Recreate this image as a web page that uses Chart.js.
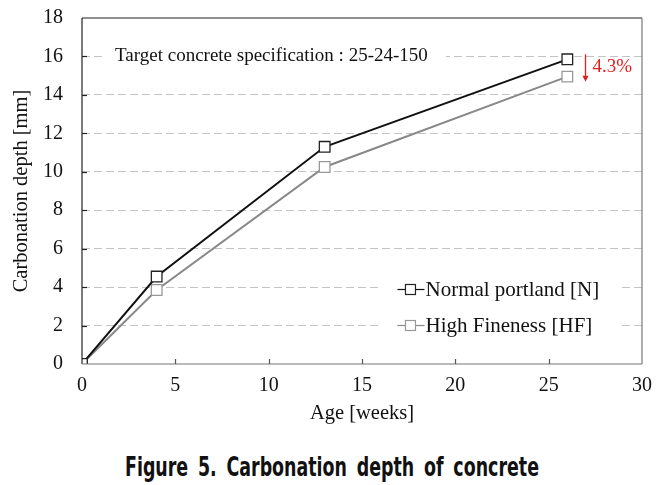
<!DOCTYPE html>
<html>
<head>
<meta charset="utf-8">
<script src="https://cdn.jsdelivr.net/npm/chart.js@4"></script>
<style>
  body { margin: 0; background: #fff; width: 672px; height: 485px; overflow: hidden; }
  #wrap { position: relative; width: 672px; height: 430px; }
  #caption {
    font-family: "DejaVu Sans Condensed", "DejaVu Sans", sans-serif;
    font-stretch: condensed;
    font-weight: bold;
    font-size: 26px; color: #111; text-align: center; margin-top: 22px;
    word-spacing: 5px;
    transform: scaleX(0.745); margin-left: -8px;
  }
</style>
</head>
<body>
<div id="wrap"><canvas id="plot" width="672" height="430"></canvas></div>
<div id="caption">Figure 5. Carbonation depth of concrete</div>
<script>
// Data
const ageWeeks = [0, 4, 13, 26];
const normalDepth = [0, 4.55, 11.3, 15.85];
const fineDepth = [0, 3.85, 10.25, 14.95];
const seriesLabels = ['Normal portland [N]', 'High Fineness [HF]'];
const specText = 'Target concrete specification : 25-24-150';
const reductionText = '4.3%';

const serif = '"Liberation Serif", "Times New Roman", serif';

// Frame, inner ticks, spec text, arrow and legend
const extras = {
    id: 'extras',
    afterDraw(chart) {
        const { ctx, chartArea: a, scales: { x, y } } = chart;
        ctx.save();
        // frame
        ctx.lineWidth = 1.2;
        ctx.strokeStyle = '#222';
        ctx.beginPath(); ctx.moveTo(a.left, a.top); ctx.lineTo(a.right, a.top); ctx.stroke();
        ctx.beginPath(); ctx.moveTo(a.left, a.top); ctx.lineTo(a.left, a.bottom); ctx.stroke();
        ctx.strokeStyle = '#777';
        ctx.beginPath(); ctx.moveTo(a.right, a.top); ctx.lineTo(a.right, a.bottom); ctx.stroke();
        ctx.beginPath(); ctx.moveTo(a.left, a.bottom); ctx.lineTo(a.right, a.bottom); ctx.stroke();
        // small inward ticks
        ctx.strokeStyle = '#555';
        x.ticks.forEach(t => {
            if (t.value <= x.min || t.value >= x.max) return;
            const px = Math.round(x.getPixelForValue(t.value)) + 0.5;
            ctx.beginPath(); ctx.moveTo(px, a.bottom); ctx.lineTo(px, a.bottom - 5); ctx.stroke();
        });
        ctx.strokeStyle = '#222';
        y.ticks.forEach(t => {
            if (t.value <= y.min || t.value >= y.max) return;
            const py = Math.round(y.getPixelForValue(t.value)) + 0.5;
            ctx.beginPath(); ctx.moveTo(a.left, py); ctx.lineTo(a.left + 5, py); ctx.stroke();
        });

        // spec text with white background over grid line
        ctx.font = '19px ' + serif;
        ctx.textBaseline = 'middle';
        const sx = x.getPixelForValue(1.77);
        const sy = y.getPixelForValue(16);
        const sw = ctx.measureText(specText).width;
        ctx.fillStyle = '#fff';
        ctx.fillRect(sx - 12, sy - 11, sw + 30, 22);
        ctx.fillStyle = '#111';
        ctx.textAlign = 'left';
        ctx.fillText(specText, sx, sy);

        // red arrow between the last points
        const ax = Math.round(x.getPixelForValue(26.95)) + 0.5;
        const y1 = y.getPixelForValue(normalDepth[3]) - 5;
        const y2 = y.getPixelForValue(fineDepth[3]) + 5;
        ctx.strokeStyle = '#e02020';
        ctx.fillStyle = '#e02020';
        ctx.lineWidth = 1.3;
        ctx.beginPath(); ctx.moveTo(ax, y1); ctx.lineTo(ax, y2 - 4); ctx.stroke();
        ctx.beginPath(); ctx.moveTo(ax - 3, y2 - 6); ctx.lineTo(ax + 3, y2 - 6); ctx.lineTo(ax, y2); ctx.closePath(); ctx.fill();
        ctx.font = '19px ' + serif;
        ctx.fillText(reductionText, ax + 7, (y1 + y2) / 2 - 1);

        // legend box
        const colors = chart.data.datasets.map(d => d.pointBorderColor);
        const lines = chart.data.datasets.map(d => d.borderColor);
        const lx = x.getPixelForValue(16.9);
        const rows = [y.getPixelForValue(3.9), y.getPixelForValue(2.02)];
        const boxL = x.getPixelForValue(15.85);
        ctx.font = '21px ' + serif;
        ctx.fillStyle = '#fff';
        ctx.fillRect(boxL, rows[0] - 16, x.getPixelForValue(28.9) - boxL, rows[1] - rows[0] + 32);
        rows.forEach((ry, i) => {
            const mx = lx + 13;
            const py = Math.round(ry) + 0.5;
            ctx.strokeStyle = lines[i];
            ctx.lineWidth = 1.2;
            ctx.beginPath(); ctx.moveTo(lx, py); ctx.lineTo(mx + 14, py); ctx.stroke();
            ctx.fillStyle = '#fff';
            ctx.strokeStyle = colors[i];
            ctx.fillRect(mx - 5, py - 5, 10, 10);
            ctx.strokeRect(mx - 5, py - 5, 10, 10);
            ctx.fillStyle = '#111';
            ctx.fillText(chart.data.datasets[i].label, mx + 15, ry + 1);
        });
        ctx.restore();
    }
};

new Chart(document.getElementById('plot'), {
    type: 'line',
    data: {
        datasets: [
            {
                label: seriesLabels[0],
                data: ageWeeks.map((a, i) => ({ x: a, y: normalDepth[i] })),
                borderColor: '#111',
                borderWidth: 2,
                pointStyle: 'rect',
                pointRadius: 7.5,
                pointBackgroundColor: '#fff',
                pointBorderColor: '#222',
                pointBorderWidth: 1.3
            },
            {
                label: seriesLabels[1],
                data: ageWeeks.map((a, i) => ({ x: a, y: fineDepth[i] })),
                borderColor: '#888',
                borderWidth: 2,
                pointStyle: 'rect',
                pointRadius: 7.5,
                pointBackgroundColor: '#fff',
                pointBorderColor: '#999',
                pointBorderWidth: 1.3
            }
        ]
    },
    options: {
        responsive: false,
        animation: false,
        devicePixelRatio: 1,
        layout: { padding: { left: 0, top: 18, right: 30, bottom: 0 } },
        plugins: { legend: { display: false }, tooltip: { enabled: false } },
        scales: {
            x: {
                type: 'linear',
                min: 0,
                max: 30,
                ticks: { stepSize: 5, color: '#111', font: { family: serif, size: 20 }, padding: 10 },
                grid: { display: false, drawTicks: false },
                border: { display: false },
                title: { display: true, text: 'Age [weeks]', color: '#111', font: { family: serif, size: 20.5 }, padding: { top: 0, bottom: 4 } },
                afterFit: s => { s.height = 66; s.paddingLeft = 0; s.paddingRight = 0; }
            },
            y: {
                min: 0,
                max: 18,
                ticks: { stepSize: 2, color: '#111', font: { family: serif, size: 20 }, padding: 19 },
                grid: {
                    drawTicks: false,
                    color: c => (c.tick.value === 0 || c.tick.value === 18) ? 'rgba(0,0,0,0)' : '#c4c4c4',
                    lineWidth: 1
                },
                border: { display: false, dash: [8, 4] },
                title: { display: true, text: 'Carbonation depth [mm]', color: '#111', font: { family: serif, size: 20.5 }, padding: { top: 9, bottom: 0 } },
                afterFit: s => { s.width = 82; s.paddingTop = 0; s.paddingBottom = 0; }
            }
        }
    },
    plugins: [extras]
});
</script>
</body>
</html>
